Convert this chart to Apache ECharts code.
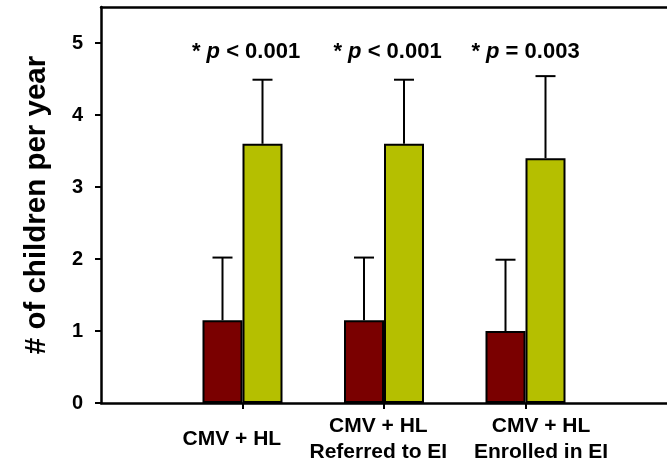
<!DOCTYPE html>
<html>
<head>
<meta charset="utf-8">
<script src="https://cdn.jsdelivr.net/npm/echarts@6/dist/echarts.min.js"></script>
<style>html,body{margin:0;padding:0;background:#fff}#c{width:667px;height:465px}</style>
</head>
<body>
<div id="c"></div>
<script>
const categories = ['CMV + HL', 'CMV + HL\nReferred to EI', 'CMV + HL\nEnrolled in EI'];
const seriesAValues = [1.15, 1.15, 1.0];
const seriesAUpper = [2.02, 2.02, 1.99];
const seriesBValues = [3.6, 3.6, 3.4];
const seriesBUpper = [4.49, 4.49, 4.54];
const pOperators = ['<', '<', '='];
const pValues = ['0.001', '0.001', '0.003'];
const yTicks = [0, 1, 2, 3, 4, 5];

const FONT = 'Liberation Sans, Arial, sans-serif';
const RED = '#7a0000';
const GREEN = '#b5bf00';
const BAR_W = 40;
const labelShift = [-0.075, -0.04, 0.11];
const pTextY = 4.88;
const pShift = [0.025, 0.025, 0.0];

const posA = categories.map((c, i) => [i + 1, seriesAValues[i]]);
const posB = categories.map((c, i) => [i + 1, seriesBValues[i]]);
const errData = [];
categories.forEach((c, i) => {
  errData.push([i + 1, seriesAUpper[i], seriesAValues[i], 0]);
  errData.push([i + 1, seriesBUpper[i], seriesBValues[i], 1]);
});
const annData = categories.map((c, i) => [i + 1 + pShift[i], pTextY, i]);

const chart = echarts.init(document.getElementById('c'), null, {renderer: 'canvas'});
chart.setOption({
  animation: false,
  backgroundColor: '#fff',
  textStyle: {fontFamily: FONT},
  grid: {left: 101, top: 7, width: 572, height: 398, containLabel: false},
  xAxis: [{
    type: 'value', min: 0, max: 4,
    axisLine: {show: true, onZero: false, lineStyle: {color: '#000', width: 2.5}},
    axisTick: {show: true, length: 6, customValues: [1, 2, 3], lineStyle: {color: '#000', width: 2}},
    axisLabel: {
      customValues: categories.map((c, i) => i + 1 + labelShift[i]),
      formatter: function (v) {
        const i = Math.round(v) - 1;
        return categories[i] || '';
      },
      color: '#000', fontFamily: FONT, fontWeight: 'bold', fontSize: 21,
      lineHeight: 26, verticalAlign: 'middle', margin: 36, align: 'center'
    },
    splitLine: {show: false}
  }, {
    type: 'value', min: 0, max: 4, position: 'top',
    axisLine: {show: true, onZero: false, lineStyle: {color: '#000', width: 2.5}},
    axisTick: {show: false}, axisLabel: {show: false}, splitLine: {show: false}
  }],
  yAxis: {
    type: 'value', min: 0, max: 5.5,
    name: '# of children per year', nameLocation: 'middle', nameGap: 49, nameRotate: 90,
    nameTextStyle: {color: '#000', fontFamily: FONT, fontWeight: 'bold', fontSize: 29.5},
    axisLine: {show: true, lineStyle: {color: '#000', width: 2.5}},
    axisTick: {show: true, length: 6, customValues: yTicks, lineStyle: {color: '#000', width: 2}},
    axisLabel: {customValues: yTicks, color: '#000', fontFamily: FONT, fontWeight: 'bold', fontSize: 20, margin: 18},
    splitLine: {show: false}
  },
  series: [{
    name: 'Group A', type: 'bar', data: posA, barWidth: BAR_W, barGap: '0%',
    itemStyle: {color: RED, borderColor: '#000', borderWidth: 2}
  }, {
    name: 'Group B', type: 'bar', data: posB, barWidth: BAR_W, barGap: '0%',
    itemStyle: {color: GREEN, borderColor: '#000', borderWidth: 2}
  }, {
    type: 'custom', data: errData, z: 5,
    renderItem: function (params, api) {
      const x = api.value(0), up = api.value(1), mean = api.value(2), s = api.value(3);
      const off = s === 0 ? -BAR_W / 2 : BAR_W / 2;
      const pTop = api.coord([x, up]);
      const pBase = api.coord([x, mean]);
      const cx = pTop[0] + off;
      const st = {stroke: '#000', lineWidth: 2};
      return {type: 'group', children: [
        {type: 'line', shape: {x1: cx, y1: pBase[1], x2: cx, y2: pTop[1]}, style: st},
        {type: 'line', shape: {x1: cx - 10, y1: pTop[1], x2: cx + 10, y2: pTop[1]}, style: st}
      ]};
    }
  }, {
    type: 'custom', data: annData, z: 6,
    renderItem: function (params, api) {
      const i = api.value(2);
      const p = api.coord([api.value(0), api.value(1)]);
      return {type: 'text', x: p[0], y: p[1], style: {
        text: '{a|* }{i|p}{a| ' + pOperators[i] + ' ' + pValues[i] + '}',
        align: 'center', verticalAlign: 'middle',
        rich: {
          a: {fontFamily: FONT, fontWeight: 'bold', fontSize: 22, fill: '#000'},
          i: {fontFamily: FONT, fontWeight: 'bold', fontStyle: 'italic', fontSize: 22, fill: '#000'}
        }
      }};
    }
  }]
});
</script>
</body>
</html>
